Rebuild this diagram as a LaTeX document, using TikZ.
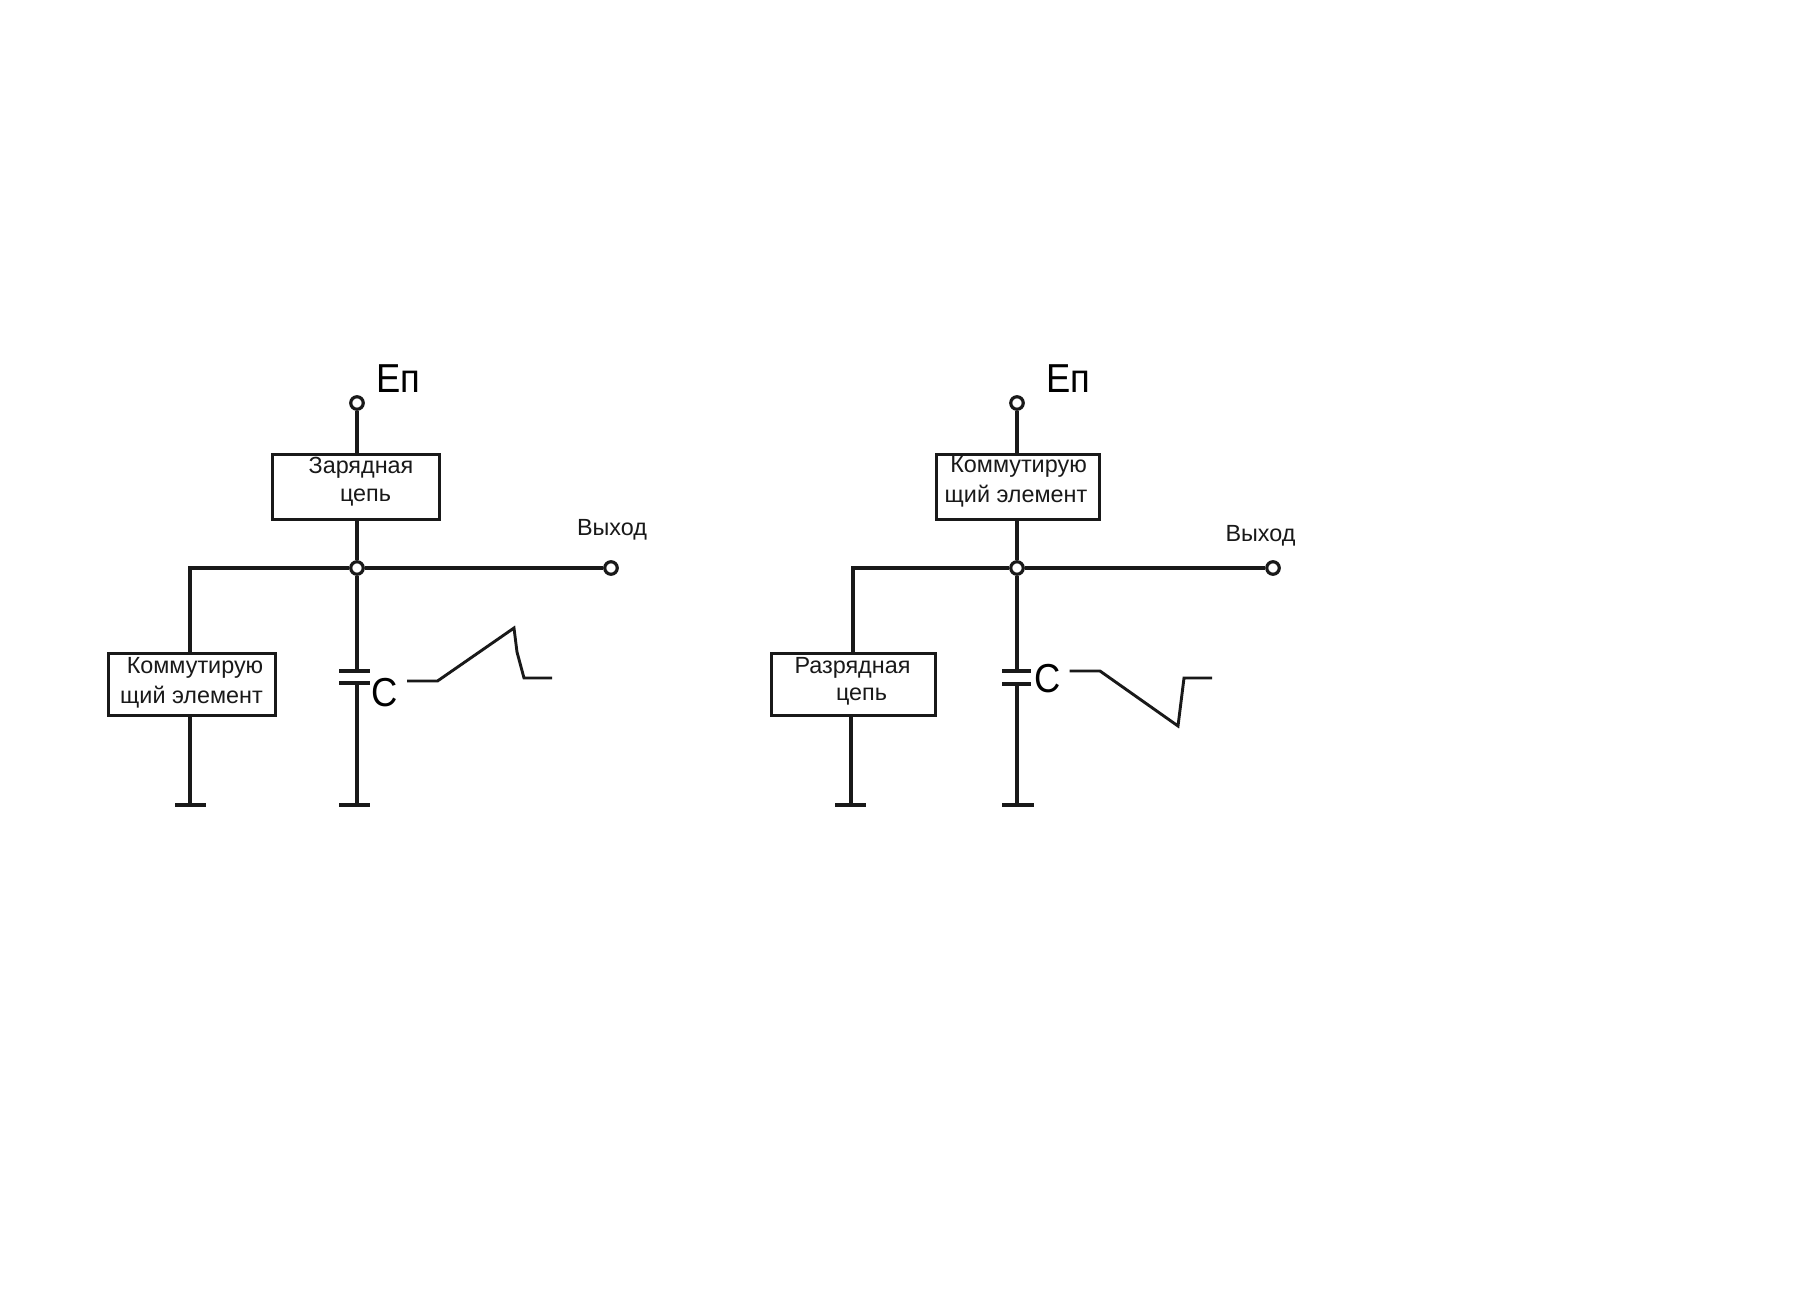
\documentclass[tikz,border=0pt]{standalone}
\usepackage{fontspec}
\setmainfont{Liberation Sans}
\newcommand{\narrowed}[1]{\scalebox{0.9}[1]{#1}}
\tikzset{
  wire/.style={line width=3.9pt,black!90,line cap=butt},
  thinwire/.style={line width=3.3pt,black!90,line join=miter},
  termnode/.style={circle,draw=black!90,line width=3.6pt,fill=white,inner sep=0pt,minimum size=0.5cm},
  boxnode/.style={rectangle,draw=black!90,line width=3.4pt,fill=white,inner sep=0pt},
  smalltext/.style={inner sep=0pt,font=\fontsize{26.6}{26.6}\selectfont,text=black!90},
  bigtext/.style={inner sep=0pt,font=\fontsize{46}{46}\selectfont,text=black}
}
\begin{document}
\begin{tikzpicture}[x=0.04cm,y=-0.04cm]
\useasboundingbox[fill=white] (0,0) rectangle (1799,1313);
% ---------- left circuit ----------
\node[boxnode,minimum width=6.68cm,minimum height=2.62cm] (lbtop) at (356,487) {};
\node[boxnode,minimum width=6.68cm,minimum height=2.5cm] (lbsw) at (192,684.5) {};
\node[termnode] (ltop) at (357,403) {};
\node[termnode] (lj) at (357,568) {};
\node[termnode] (lout) at (611,568) {};
\coordinate (lbusb) at (190,653);
\coordinate (lgl) at (175,805); \coordinate (lgr) at (206,805); \coordinate (lg) at (190,805);
\coordinate (lbusg) at (190,716);
\coordinate (lcgl) at (339,805); \coordinate (lcgr) at (370,805); \coordinate (lcg) at (357,805);
\coordinate (lp1l) at (339,671); \coordinate (lp1r) at (370,671); \coordinate (lp1) at (357,671);
\coordinate (lp2l) at (339,683); \coordinate (lp2r) at (370,683); \coordinate (lp2) at (357,683);
\draw[wire] (ltop) -- (357,454);
\draw[wire] (357,520) -- (lj);
\draw[wire] (lj) -- (lout);
\draw[wire] (lj) -| (lbusb);
\draw[wire] (lbusg) -- (lg);
\draw[wire] (lgl) -- (lgr);
\draw[wire] (lj) -- (lp1);
\draw[wire] (lp2) -- (lcg);
\draw[wire] (lp1l) -- (lp1r);
\draw[wire] (lp2l) -- (lp2r);
\draw[wire] (lcgl) -- (lcgr);
\draw[thinwire] (407,681) -- (437.5,681) -- (514,628) -- (517,652) -- (524,678) -- (552,678);
\node[bigtext] (lep) at (398,379) {\narrowed{Еп}};
\node[bigtext] (lc) at (384.5,693) {\narrowed{C}};
\node[smalltext] (lt1) at (361,468) {Зарядная};
\node[smalltext] (lt2) at (365.5,498) {цепь};
\node[smalltext] (lt3) at (612,530) {Выход};
\node[smalltext] (lt4) at (195,668) {Коммутирую};
\node[smalltext] (lt5) at (191.5,697) {щий элемент};
% ---------- right circuit ----------
\node[boxnode,minimum width=6.52cm,minimum height=2.62cm] (rbtop) at (1018,487) {};
\node[boxnode,minimum width=6.56cm,minimum height=2.5cm] (rbd) at (853.5,684.5) {};
\node[termnode] (rtop) at (1017,403) {};
\node[termnode] (rj) at (1017,568) {};
\node[termnode] (rout) at (1273,568) {};
\coordinate (rbusb) at (853,653);
\coordinate (rbusg) at (851,716);
\coordinate (rgl) at (835,805); \coordinate (rgr) at (866,805); \coordinate (rg) at (851,805);
\coordinate (rcgl) at (1002,805); \coordinate (rcgr) at (1034,805); \coordinate (rcg) at (1017,805);
\coordinate (rp1l) at (1002,671); \coordinate (rp1r) at (1031,671); \coordinate (rp1) at (1017,671);
\coordinate (rp2l) at (1002,684); \coordinate (rp2r) at (1031,684); \coordinate (rp2) at (1017,684);
\draw[wire] (rtop) -- (1017,454);
\draw[wire] (1017,520) -- (rj);
\draw[wire] (rj) -- (rout);
\draw[wire] (rj) -| (rbusb);
\draw[wire] (rbusg) -- (rg);
\draw[wire] (rgl) -- (rgr);
\draw[wire] (rj) -- (rp1);
\draw[wire] (rp2) -- (rcg);
\draw[wire] (rp1l) -- (rp1r);
\draw[wire] (rp2l) -- (rp2r);
\draw[wire] (rcgl) -- (rcgr);
\draw[thinwire] (1069.5,671) -- (1100,671) -- (1178,726) -- (1184,678) -- (1212,678);
\node[bigtext] (rep) at (1068,379) {\narrowed{Еп}};
\node[bigtext] (rc) at (1048,679) {\narrowed{C}};
\node[smalltext] (rt1) at (1018.5,467) {Коммутирую};
\node[smalltext] (rt2) at (1016,496) {щий элемент};
\node[smalltext] (rt3) at (1260.5,536) {Выход};
\node[smalltext] (rt4) at (852.5,668) {Разрядная};
\node[smalltext] (rt5) at (861.5,697) {цепь};
\end{tikzpicture}
\end{document}
